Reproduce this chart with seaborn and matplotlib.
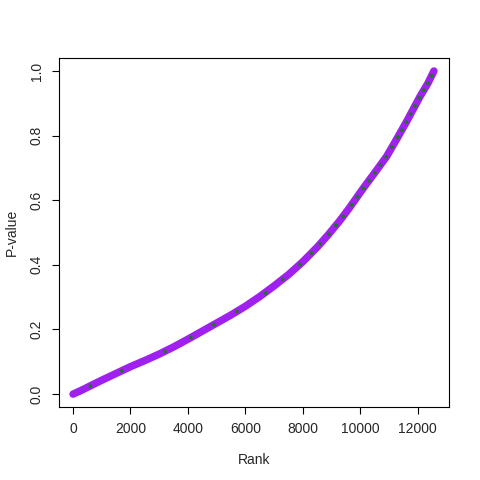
import matplotlib
matplotlib.use("Agg")
import matplotlib.pyplot as plt
import seaborn as sns
import pandas as pd

# sorted p-values (rank, p)
rank = [1, 250, 500, 1000, 1500, 2000, 2500, 3000, 3500, 4000, 4500, 5000,
        5500, 6000, 6500, 7000, 7500, 8000, 8500, 8870, 9287, 9600, 10100,
        10500, 10910, 11250, 11606, 12070, 12350, 12560]
pval = [0.000, 0.010, 0.021, 0.043, 0.064, 0.085, 0.104, 0.124, 0.146, 0.170,
        0.195, 0.220, 0.245, 0.272, 0.302, 0.335, 0.370, 0.410, 0.455, 0.492,
        0.537, 0.574, 0.637, 0.685, 0.735, 0.787, 0.843, 0.920, 0.962, 1.000]

# the second (green) series peeks through mostly in the upper part
green_rank = [600, 1700, 3200, 4100, 4900, 5700, 6700, 7300, 7900, 8300,
              8600, 8900, 9150, 9400, 9700, 9900, 10100, 10300, 10500, 10700,
              10900, 11100, 11300, 11450, 11600, 11750, 11900, 12050, 12200,
              12350, 12480]
green_pval = [0.025, 0.072, 0.132, 0.175, 0.215, 0.256, 0.313, 0.355, 0.401,
              0.437, 0.465, 0.495, 0.522, 0.550, 0.586, 0.611, 0.637, 0.661,
              0.685, 0.709, 0.734, 0.765, 0.795, 0.817, 0.842, 0.867, 0.892,
              0.917, 0.941, 0.962, 0.985]

df = pd.DataFrame({"Rank": rank, "P": pval})
gdf = pd.DataFrame({"Rank": green_rank, "P": green_pval})

sns.set_style("white")
plt.rcParams["font.family"] = ["Liberation Sans", "DejaVu Sans"]

fig = plt.figure(figsize=(4.8, 4.8), dpi=100)
ax = fig.add_axes([0.123, 0.152, 0.812, 0.727])

sns.lineplot(data=df, x="Rank", y="P", color="#a020f0", lw=5.4,
             solid_capstyle="round", ax=ax)
sns.scatterplot(data=gdf, x="Rank", y="P", color="#1a7a1a", s=7,
                edgecolor="none", ax=ax, zorder=3)

ax.set_xlim(-487, 13078)
ax.set_ylim(-0.04, 1.04)
ax.set_xticks([0, 2000, 4000, 6000, 8000, 10000, 12000])
ax.set_yticks([0.0, 0.2, 0.4, 0.6, 0.8, 1.0])
ax.set_yticklabels(["0.0", "0.2", "0.4", "0.6", "0.8", "1.0"],
                   rotation=90, va="center")
ax.tick_params(direction="out", length=5, width=0.8, color="black",
               labelsize=10, pad=6, left=True, bottom=True)
for s in ax.spines.values():
    s.set_color("black")
    s.set_linewidth(0.8)
ax.set_xlabel("Rank", fontsize=10, labelpad=12)
ax.set_ylabel("P-value", fontsize=10, labelpad=8)

fig.savefig("out.png", dpi=100)
